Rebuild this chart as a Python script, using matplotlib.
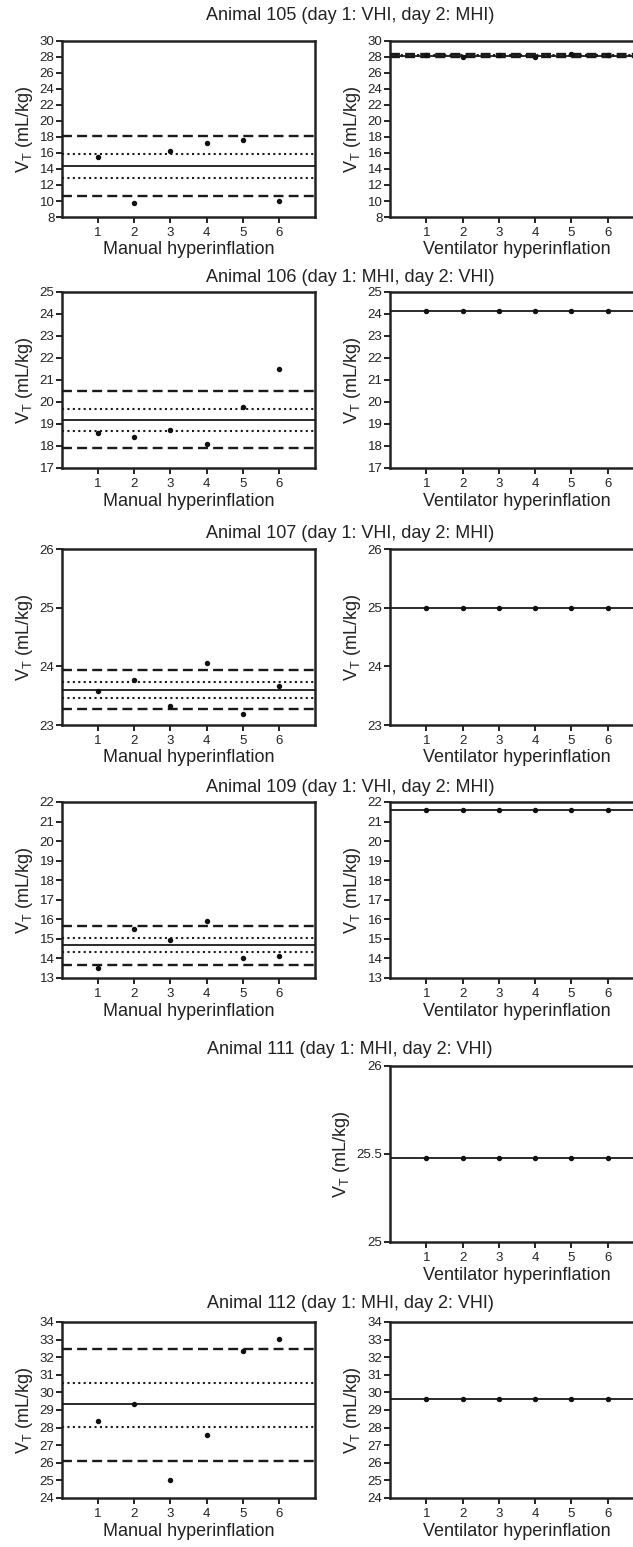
import matplotlib
matplotlib.use('Agg')
import matplotlib.pyplot as plt
from matplotlib.ticker import MultipleLocator, FormatStrFormatter

plt.rcParams['font.family'] = ['Liberation Sans', 'DejaVu Sans']
plt.rcParams['mathtext.fontset'] = 'custom'
plt.rcParams['mathtext.rm'] = 'Liberation Sans'
plt.rcParams['mathtext.it'] = 'Liberation Sans:italic'

# data
animals = ['105', '106', '107', '109', '111', '112']
orders = ['day 1: VHI, day 2: MHI', 'day 1: MHI, day 2: VHI',
          'day 1: VHI, day 2: MHI', 'day 1: VHI, day 2: MHI',
          'day 1: MHI, day 2: VHI', 'day 1: MHI, day 2: VHI']
breaths = [1, 2, 3, 4, 5, 6]

mhi_105 = [15.47, 9.70, 16.22, 17.30, 17.59, 9.99]
mhi_106 = [18.57, 18.39, 18.75, 18.09, 19.78, 21.50]
mhi_107 = [23.58, 23.77, 23.32, 24.06, 23.19, 23.66]
mhi_109 = [13.49, 15.53, 14.95, 15.93, 14.02, 14.10]
mhi_112 = [28.38, 29.32, 25.04, 27.57, 32.38, 33.02]

vhi_105 = [28.2, 28.0, 28.2, 28.0, 28.4, 28.2]
vhi_106 = [24.12, 24.12, 24.12, 24.12, 24.12, 24.12]
vhi_107 = [25.0, 25.0, 25.0, 25.0, 25.0, 25.0]
vhi_109 = [21.6, 21.6, 21.6, 21.6, 21.6, 21.6]
vhi_111 = [25.475, 25.475, 25.475, 25.475, 25.475, 25.475]
vhi_112 = [29.64, 29.64, 29.64, 29.64, 29.64, 29.64]

mhi_values = [mhi_105, mhi_106, mhi_107, mhi_109, None, mhi_112]
vhi_values = [vhi_105, vhi_106, vhi_107, vhi_109, vhi_111, vhi_112]

# mean (solid), inner limits (dotted), outer limits (dashed)
mhi_mean = [14.43, 19.19, 23.60, 14.68, None, 29.32]
mhi_inner = [(12.86, 15.85), (18.66, 19.69), (23.465, 23.725), (14.31, 15.05), None, (28.04, 30.51)]
mhi_outer = [(10.61, 18.13), (17.92, 20.52), (23.28, 23.93), (13.69, 15.68), None, (26.13, 32.45)]
vhi_mean = [28.17, 24.12, 25.0, 21.6, 25.475, 29.64]
vhi_inner = [(28.08, 28.26), (24.12, 24.12), (25.0, 25.0), (21.6, 21.6), (25.475, 25.475), (29.64, 29.64)]
vhi_outer = [(28.02, 28.32), (24.12, 24.12), (25.0, 25.0), (21.6, 21.6), (25.475, 25.475), (29.64, 29.64)]

y_limits = [(8, 30), (17, 25), (23, 26), (13, 22), (25, 26), (24, 34)]
y_steps = [2, 1, 1, 1, 0.5, 1]

W, H = 633, 1547
row_tops = [41, 292, 549, 802, 1066, 1322]
title_y = [15, 277, 533, 788, 1050, 1303]
panel_h = 176


def draw_panel(ax, values, mean, inner, outer, ylim, step, xlabel):
    ax.axhline(mean, color='#1a1a1a', lw=1.3, zorder=3)
    for y in inner:
        if y != mean:
            ax.axhline(y, color='#1a1a1a', lw=1.5, ls=(0, (1, 1.6)), zorder=3)
    for y in outer:
        if y != mean:
            ax.axhline(y, color='#1a1a1a', lw=1.7, ls=(0, (4.2, 2.2)), zorder=3)
    ax.plot(breaths, values, 'o', color='#111111', ms=2.9, zorder=4)
    ax.set_xlim(0, 7)
    ax.set_ylim(*ylim)
    ax.set_xticks(breaths)
    ax.yaxis.set_major_locator(MultipleLocator(step))
    ax.yaxis.set_major_formatter(FormatStrFormatter('%g'))
    ax.tick_params(direction='out', length=4, width=1.4, labelsize=9.5,
                   pad=1.5, colors='#222222')
    ax.tick_params(axis='x', pad=3)
    for sp in ax.spines.values():
        sp.set_linewidth(1.8)
        sp.set_color('#222222')
    ax.set_ylabel(r'V$_\mathregular{T}$ (mL/kg)', fontsize=13, labelpad=3, color='#222222')
    ax.set_xlabel(xlabel, fontsize=13, labelpad=2, color='#222222')


fig = plt.figure(figsize=(W / 100, H / 100), dpi=100)

for i in range(6):
    bottom = 1 - (row_tops[i] + panel_h) / H
    fig.text(350 / W, 1 - title_y[i] / H, f'Animal {animals[i]} ({orders[i]})',
             ha='center', va='center', fontsize=13, color='#222222')
    if mhi_values[i] is not None:
        ax = fig.add_axes([62 / W, bottom, 253 / W, panel_h / H])
        draw_panel(ax, mhi_values[i], mhi_mean[i], mhi_inner[i], mhi_outer[i],
                   y_limits[i], y_steps[i], 'Manual hyperinflation')
    ax = fig.add_axes([390 / W, bottom, 254 / W, panel_h / H])
    draw_panel(ax, vhi_values[i], vhi_mean[i], vhi_inner[i], vhi_outer[i],
               y_limits[i], y_steps[i], 'Ventilator hyperinflation')

fig.savefig('out.png', dpi=100)
